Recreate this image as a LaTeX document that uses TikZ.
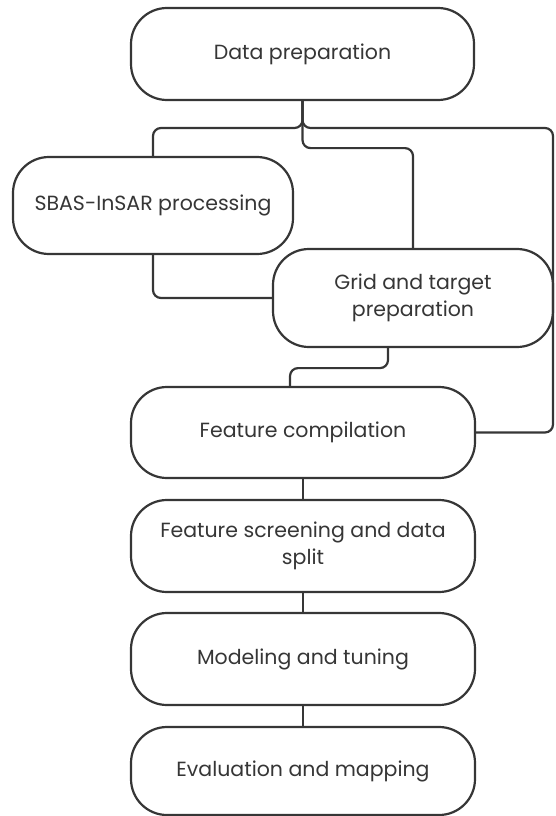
\documentclass[tikz,border=0pt]{standalone}
\usepackage{fontspec}
\setmainfont{Poppins}
\usetikzlibrary{calc}
\definecolor{ink}{HTML}{363636}
\tikzset{
  stepbox/.style={draw=ink, line width=2.2pt, rounded corners=36pt, fill=white,
    text=ink, align=center, inner sep=0pt, font=\fontsize{20.5}{27}\selectfont},
  conn/.style={draw=ink, line width=2.2pt, rounded corners=8pt}
}
\begin{document}
\begin{tikzpicture}[x=1pt, y=-1pt]
\useasboundingbox (0,0) rectangle (555,816);

% process steps
\node[stepbox, minimum width=343pt, minimum height=92pt] (data) at (302.5,54) {Data preparation};
\node[stepbox, minimum width=280pt, minimum height=97pt] (sbas) at (153,205.5) {SBAS-InSAR processing};
\node[stepbox, minimum width=280pt, minimum height=98pt] (grid) at (413,298) {Grid and target\\preparation};
\node[stepbox, minimum width=344pt, minimum height=91pt] (fc) at (303,432.5) {Feature compilation};
\node[stepbox, minimum width=344pt, minimum height=92pt] (fs) at (303,546) {Feature screening and data\\split};
\node[stepbox, minimum width=344pt, minimum height=92pt] (mt) at (303,659) {Modeling and tuning};
\node[stepbox, minimum width=344pt, minimum height=88pt] (em) at (303,771) {Evaluation and mapping};

% branching points
\coordinate (split) at (302.5,128);
\coordinate (rail) at (553,128);

% connectors from data preparation
\draw[conn] (data.south) -- (split) -| (sbas.north);
\draw[conn] (data.south) |- (rail) |- (fc.east);
\draw[conn] (data.south) -- ++(0,47) -| (grid.north);

% connectors between the later steps
\draw[conn] (sbas.south) |- (grid.west);
\draw[conn] ($(grid.south)+(-25,0)$) -- ++(0,20) -| ($(fc.north)+(-13,0)$);
\draw[conn] (fc.south) -- (fs.north);
\draw[conn] (fs.south) -- (mt.north);
\draw[conn] (mt.south) -- (em.north);
\end{tikzpicture}
\end{document}
